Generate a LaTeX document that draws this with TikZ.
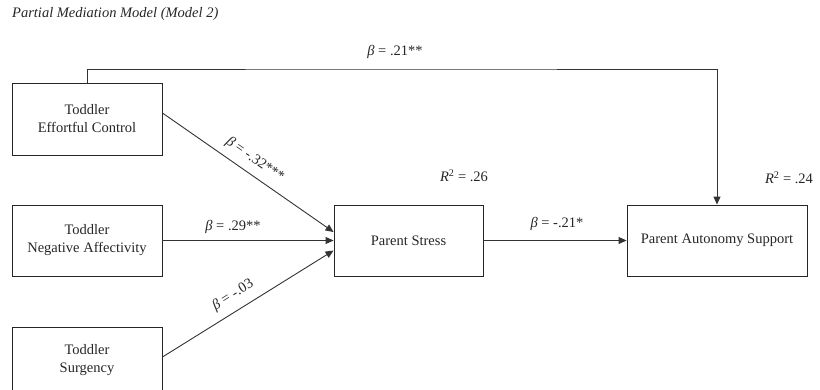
\documentclass[tikz,border=0pt]{standalone}
\usepackage{fontspec}
\setmainfont{Liberation Serif}
\usetikzlibrary{arrows.meta}
\begin{document}
\begin{tikzpicture}[x=1pt,y=-1pt,
  every node/.style={font=\fontsize{14.5}{18}\selectfont, text=black!85},
  varbox/.style={draw=black!85, line width=0.9pt, align=center, inner sep=0pt},
  path/.style={draw=black!80, line width=0.9pt, -{Triangle[length=8pt,width=7pt]}},
  lbl/.style={inner sep=0pt}]
\useasboundingbox (0,0) rectangle (820,389);
\clip (0,0) rectangle (820,389);
\node[anchor=west, lbl] (title) at (12,14) {\textit{Partial Mediation Model (Model 2)}};
\node[varbox, minimum width=150pt, minimum height=72pt] (ec) at (87,119) {Toddler\\Effortful Control};
\node[varbox, minimum width=150pt, minimum height=71pt] (na) at (87,240.5) {Toddler\\Negative Affectivity};
\node[varbox, minimum width=150pt, minimum height=66pt] (sg) at (87,360) {Toddler\\Surgency};
\node[varbox, minimum width=149pt, minimum height=71pt] (ps) at (408.5,240.5) {Parent Stress};
\node[varbox, minimum width=180pt, minimum height=71pt] (pas) at (717,240.5) {Parent Autonomy Support};
\coordinate (top) at (400,69);
\draw[path] (ec.north) |- (top) -| (pas.north);
\draw[path] ([yshift=6pt]ec.east) -- ([yshift=8.5pt]ps.west);
\draw[path] (na.east) -- (ps.west);
\draw[path] ([yshift=3pt]sg.east) -- ([yshift=-10pt]ps.west);
\draw[path] (ps.east) -- (pas.west);
\node[lbl] (l21) at (395,52) {\textit{β} = .21**};
\node[lbl, rotate=-34.7] (l32) at (255,160) {\textit{β} = -.32***};
\node[lbl] (l29) at (233,227) {\textit{β} = .29**};
\node[lbl, rotate=31.9] (l03) at (233,295) {\textit{β} = -.03};
\node[lbl] (r26) at (464,176) {\textit{R}\textsuperscript{2} = .26};
\node[lbl] (l21b) at (557,224) {\textit{β} = -.21*};
\node[lbl] (r24) at (789,178) {\textit{R}\textsuperscript{2} = .24};
\end{tikzpicture}
\end{document}
